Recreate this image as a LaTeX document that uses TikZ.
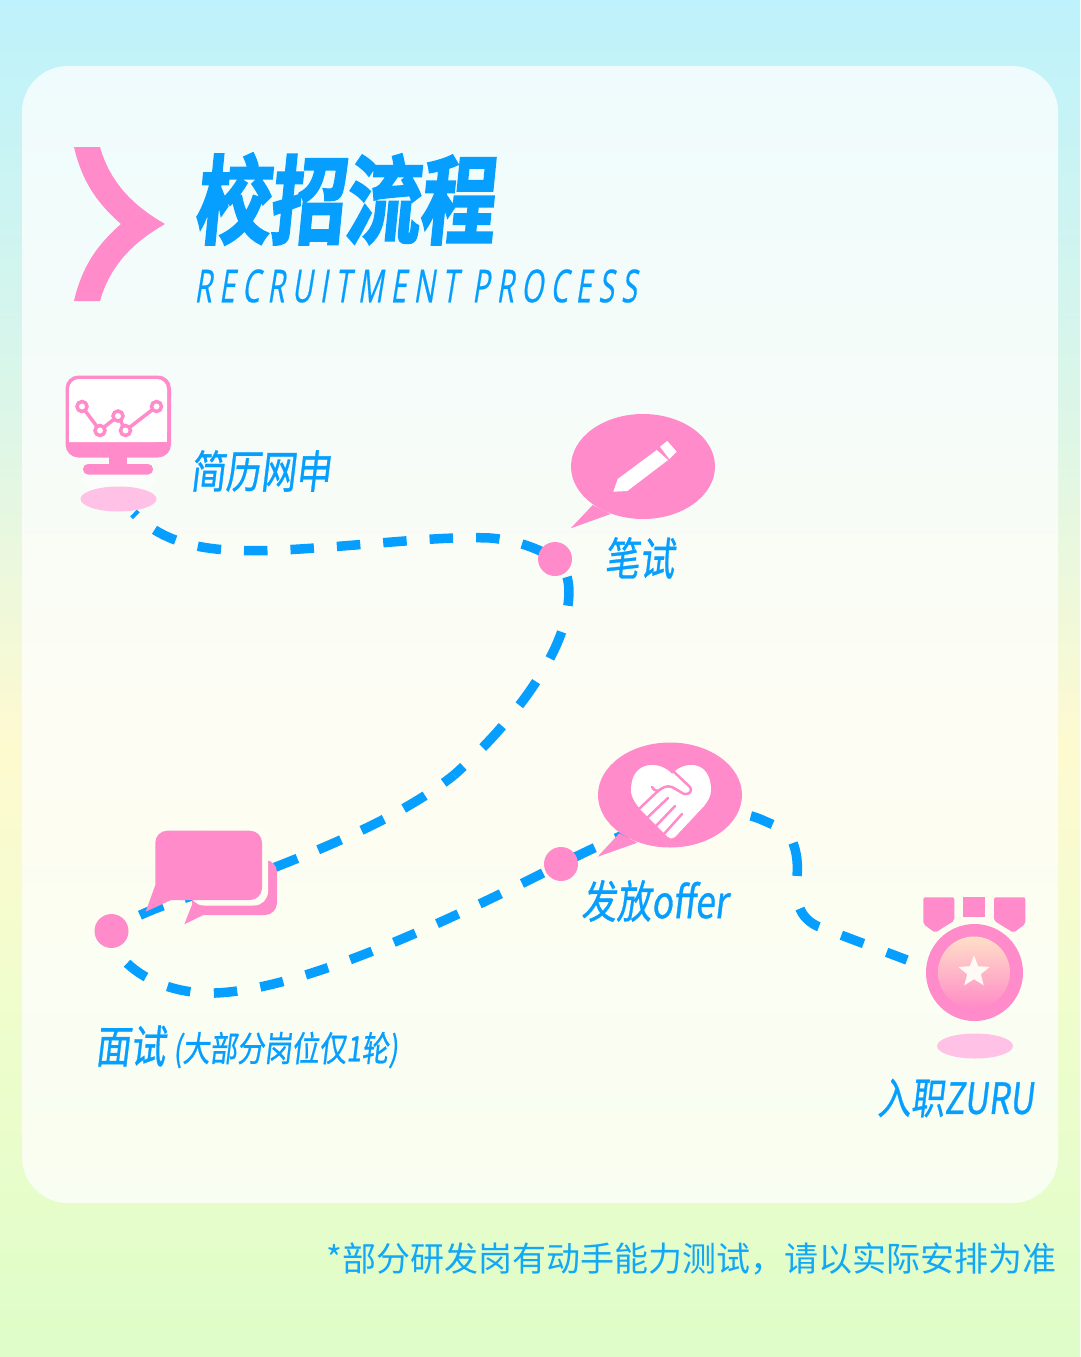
\documentclass[tikz,border=0pt]{standalone}
\usepackage{fontspec}
\usepackage{tikz}
\usetikzlibrary{shapes.geometric, backgrounds}
\newfontfamily\titlefont[FakeStretch=0.78, FakeSlant=0.10, FakeBold=2.5]{Noto Sans CJK SC Bold}
\newfontfamily\labelfont[FakeStretch=0.78, FakeSlant=0.12, FakeBold=0.7]{Noto Sans CJK SC}
\newfontfamily\subfont[FakeStretch=0.62, FakeSlant=0.16, LetterSpace=16, FakeBold=0.4]{Open Sans}
\newfontfamily\notefont{Noto Sans CJK SC}
\definecolor{rosepink}{RGB}{255,139,203}
\definecolor{rosepale}{RGB}{255,194,230}
\definecolor{routeblue}{RGB}{6,159,255}
\definecolor{noteblue}{RGB}{18,168,245}
\definecolor{cardhalo}{RGB}{254,255,243}
\pgfdeclareverticalshading{pagefade}{100bp}{
  rgb(0bp)=(0.871,0.992,0.784);
  rgb(25bp)=(0.871,0.992,0.784);
  rgb(38bp)=(0.941,0.992,0.804);
  rgb(47.5bp)=(0.996,0.980,0.816);
  rgb(60bp)=(0.860,0.965,0.910);
  rgb(75bp)=(0.745,0.949,0.988);
  rgb(100bp)=(0.745,0.949,0.988)}
\pgfdeclareverticalshading{medalfade}{100bp}{
  rgb(0bp)=(1,0.545,0.780);
  rgb(25bp)=(1,0.545,0.780);
  rgb(75bp)=(1,0.875,0.780);
  rgb(100bp)=(1,0.875,0.780)}
\tikzset{
  routeline/.style={draw=routeblue, line width=9.5pt, dash pattern=on 23.5pt off 23pt},
  stepdot/.style={circle, fill=rosepink, minimum size=34pt, inner sep=0pt},
  shadowspot/.style={ellipse, fill=rosepale, minimum width=76pt, minimum height=25pt, inner sep=0pt},
  speechoval/.style={ellipse, fill=rosepink, minimum width=144pt, minimum height=105pt, inner sep=0pt},
  steplabel/.style={text=routeblue, inner sep=0pt, font=\labelfont\fontsize{45}{45}\selectfont},
  chartmark/.style={circle, draw=rosepink, fill=white, line width=3.5pt, minimum size=10pt, inner sep=0pt},
  handline/.style={draw=rosepink, line width=2.5pt, line cap=round, line join=round},
}
\begin{document}
\begin{tikzpicture}[x=1pt, y=-1pt]
    % draw page and card
    \useasboundingbox (0, 0) rectangle (1080, 1357);
    \begin{scope}[on background layer]
        \shade[shading=pagefade] (0, 0) rectangle (1080, 1357);
        \fill[white, opacity=0.75] (22, 66) [rounded corners=46pt] rectangle (1058, 1203);
    \end{scope}

    % draw title
    \fill[rosepink] (74, 147) .. controls (82, 182) and (98, 204) .. (121, 224) .. controls (98, 244) and (82, 266) .. (74, 301) -- (100, 301) .. controls (110, 266) and (132, 243) .. (165, 224) .. controls (132, 205) and (110, 182) .. (100, 147) -- cycle;
    \node[anchor=west, inner sep=0pt, text=routeblue, font=\titlefont\fontsize{96}{96}\selectfont] (titlecn) at (194, 199) {校招流程};
    \node[anchor=west, inner sep=0pt, text=routeblue, font=\subfont\fontsize{45.5}{45.5}\selectfont] (titleen) at (194, 286) {RECRUITMENT PROCESS};

    % draw step nodes
    \coordinate (resume) at (133.5, 513);
    \node[stepdot] (written) at (555, 559) {};
    \coordinate (bend) at (454, 775);
    \node[stepdot] (interview) at (111.5, 931) {};
    \node[stepdot] (offer) at (561, 864) {};
    \coordinate (ribbon) at (775, 825.5);
    \coordinate (turn) at (793, 843);
    \coordinate (join) at (907, 960);

    % draw dashed route
    \begin{scope}[on background layer]
        \draw[routeline, dash phase=-27pt] (resume) .. controls (170, 550) and (220, 554) .. (300, 549) .. controls (380, 544) and (440, 536) .. (490, 538) .. controls (515, 540) and (538, 548) .. (written.center);
        \draw[routeline, dash pattern=on 29pt off 27pt, dash phase=-22pt] (written.center) .. controls (570, 570) and (570, 590) .. (568, 605) .. controls (562, 660) and (505, 730) .. (bend);
        \draw[routeline, dash pattern=on 25pt off 22.5pt, dash phase=12pt] (bend) .. controls (400, 818) and (320, 850) .. (250, 877) .. controls (200, 895) and (150, 905) .. (interview.center);
        \draw[routeline, dash pattern=on 23.5pt off 23.5pt, dash phase=-37pt] (interview.center) .. controls (108, 955) and (150, 995) .. (215, 993) .. controls (300, 990) and (440, 925) .. (offer.center);
        \draw[routeline, dash phase=-14pt] (offer.center) .. controls (620, 835) and (700, 795) .. (760, 819) -- (ribbon);
        \draw[routeline, dash pattern=on 33.5pt off 33pt on 27pt off 24pt on 23.7pt off 24.7pt on 24pt off 100pt] (turn) .. controls (797, 853) and (798, 865) .. (797, 876) .. controls (796, 895) and (795, 915) .. (817, 926) -- (join);
    \end{scope}

    % draw monitor icon
    \fill[white, opacity=0.6] (118, 480) ellipse (37 and 14);
    \node[shadowspot] (monitorspot) at (118.5, 499) {};
    \fill[rosepink, rounded corners=13pt] (65.5, 375.5) rectangle (171, 457.5);
    \fill[white, rounded corners=10pt] (69, 442) -- (69, 379) -- (167, 379) -- (167, 442) [sharp corners] -- cycle;
    \fill[white] (69, 425) rectangle (167, 442);
    \fill[rosepink] (109, 456) rectangle (127, 466);
    \fill[rosepink, rounded corners=5pt] (83, 464) rectangle (153, 474.5);
    \draw[rosepink, line width=3.5pt] (82, 406.5) -- (100, 430.5) -- (118, 416) -- (125.5, 430.5) -- (156.5, 406.5);
    \foreach \px/\py in {82/406.5, 100/430.5, 118/416, 125.5/430.5, 156.5/406.5}
        \node[chartmark] at (\px, \py) {};
    \node[steplabel, anchor=west] (resumelabel) at (190, 471) {简历网申};

    % draw pencil bubble
    \node[speechoval] (pencilbubble) at (643, 466.5) {};
    \fill[rosepink] (592.7, 505) -- (570.7, 528.3) -- (610.7, 514) -- cycle;
    \fill[white] (613.3, 491.7) -- (617.7, 479) -- (656.7, 450) -- (668, 460) -- (627.3, 491) -- cycle;
    \fill[white] (660, 446.7) -- (667.3, 441) -- (676.7, 451.7) -- (669.3, 459) -- cycle;
    \node[steplabel, anchor=west] (writtenlabel) at (604, 558) {笔试};

    % draw chat bubbles
    \fill[rosepink, rounded corners=12pt] (192, 860) rectangle (277, 915);
    \fill[rosepink] (192.7, 903) -- (184.3, 924.3) -- (203.3, 915) -- cycle;
    \fill[cardhalo, rounded corners=14pt] (190, 826) rectangle (268, 905.5);
    \fill[rosepink, rounded corners=12pt] (155.3, 830.7) rectangle (262, 900);
    \fill[rosepink] (155.3, 885) -- (145.7, 911.7) -- (172, 899.5) -- cycle;
    \node[steplabel, anchor=west] (interviewlabel) at (95, 1046) {面试};
    \node[steplabel, anchor=west, font=\labelfont\fontsize{35}{35}\selectfont] (interviewnote) at (173, 1050) {(大部分岗位仅1轮)};

    % draw handshake bubble
    \node[speechoval] (offerbubble) at (670, 795) {};
    \fill[rosepink] (619.3, 833.3) -- (597.7, 856.7) -- (637.3, 842.7) -- cycle;
    \fill[white] (672, 774) .. controls (660, 760) and (631, 760) .. (631, 790) .. controls (631, 798) and (636, 804) .. (641, 810) -- (668, 837) .. controls (670, 839) and (673, 839) .. (675, 837) -- (704, 806) .. controls (708, 801) and (711, 796) .. (711, 790) .. controls (711, 760) and (684, 760) .. (672, 774) -- cycle;
    \draw[handline] (673, 771) -- (690, 787) .. controls (693, 791) and (689, 795) .. (684, 794) -- (672, 787) .. controls (666, 785) and (662, 788) .. (658, 791) .. controls (655, 791) and (653, 789) .. (652, 787);
    \draw[handline] (658, 791) -- (640, 808);
    \draw[handline] (648, 817) -- (668, 798);
    \draw[handline] (656, 826) -- (675, 806);
    \draw[handline] (664, 834) -- (682, 814);
    \node[steplabel, anchor=west] (offerlabel) at (581, 901) {发放offer};

    % draw medal icon
    \fill[rosepink, rounded corners=2pt] (923.3, 897.3) -- (954.3, 897.3) -- (954.3, 920.7) -- (935, 932.7) -- (923.3, 924) -- cycle;
    \fill[rosepink] (962.7, 897.3) rectangle (985.3, 917.3);
    \fill[rosepink, rounded corners=2pt] (994, 897.3) -- (1025.3, 897.3) -- (1025.3, 924) -- (1013.5, 932.7) -- (994, 920.7) -- cycle;
    \fill[rosepink] (974.5, 972.5) circle (48.5);
    \shade[shading=medalfade] (974, 972.5) circle (36);
    \node[star, star points=5, star point ratio=2.3, fill=white!96!orange, minimum size=33pt, inner sep=0pt] (medalstar) at (974, 972) {};
    \node[shadowspot] (medalspot) at (975, 1046) {};
    \node[steplabel, anchor=west, font=\labelfont\fontsize{43}{43}\selectfont] (joinlabel) at (877, 1098) {入职ZURU};

    % draw footnote
    \node[anchor=east, inner sep=0pt, text=noteblue, font=\notefont\fontsize{34}{34}\selectfont] (footnote) at (1057, 1259) {*部分研发岗有动手能力测试，请以实际安排为准};

\end{tikzpicture}
\end{document}
